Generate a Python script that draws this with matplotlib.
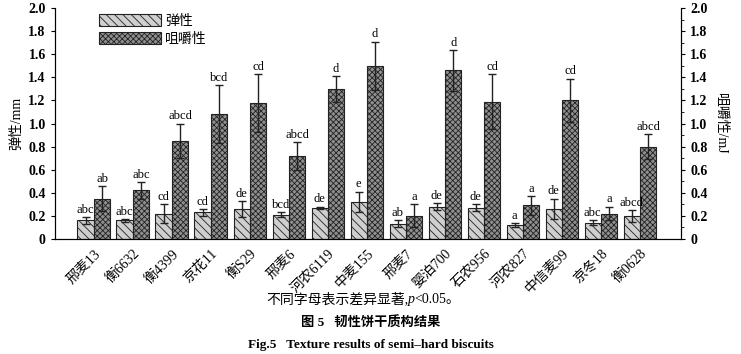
import matplotlib
matplotlib.use("Agg")
import matplotlib.pyplot as plt
import numpy as np

plt.rcParams['font.family'] = ['Liberation Serif', 'Noto Sans CJK SC', 'DejaVu Sans']
plt.rcParams['hatch.linewidth'] = 0.6

varieties = ["邢麦13", "衡6632", "衡4399", "京花11", "衡S29", "邢麦6", "河农6119", "中麦155",
             "邢麦7", "婴泊700", "石农956", "河农827", "中信麦99", "京冬18", "衡0628"]
spring = [0.16, 0.16, 0.22, 0.23, 0.26, 0.21, 0.27, 0.32, 0.13, 0.28, 0.27, 0.12, 0.26, 0.14, 0.20]
spring_err = [0.03, 0.01, 0.08, 0.03, 0.07, 0.02, 0.01, 0.09, 0.03, 0.03, 0.03, 0.02, 0.09, 0.02, 0.05]
spring_sig = ["abc", "abc", "cd", "cd", "de", "bcd", "de", "e", "ab", "de", "de", "a", "de", "abc", "abcd"]
chew = [0.35, 0.42, 0.85, 1.08, 1.18, 0.72, 1.30, 1.50, 0.20, 1.46, 1.19, 0.29, 1.20, 0.22, 0.80]
chew_err = [0.11, 0.07, 0.15, 0.25, 0.25, 0.12, 0.11, 0.21, 0.10, 0.18, 0.24, 0.08, 0.19, 0.06, 0.11]
chew_sig = ["ab", "abc", "abcd", "bcd", "cd", "abcd", "d", "d", "a", "d", "cd", "a", "cd", "a", "abcd"]

fig = plt.figure(figsize=(7.41, 3.54), dpi=100)
ax = fig.add_axes([0.074, 0.325, 0.845, 0.652])
x = np.arange(len(varieties))
w = 0.42

b1 = ax.bar(x - w / 2, spring, w, color='#cfcfcf', edgecolor='#222222', hatch='\\\\\\\\',
            linewidth=0.8, label='弹性')
b2 = ax.bar(x + w / 2, chew, w, color='#8f8f8f', edgecolor='#222222', hatch='xxxxxx',
            linewidth=0.8, label='咀嚼性')
ax.errorbar(x - w / 2, spring, yerr=spring_err, fmt='none', ecolor='#222222', elinewidth=1, capsize=3)
ax.errorbar(x + w / 2, chew, yerr=chew_err, fmt='none', ecolor='#222222', elinewidth=1, capsize=3)

for i in range(len(x)):
    ax.text(x[i] - w / 2, spring[i] + spring_err[i] + 0.01, spring_sig[i], ha='center', va='bottom', fontsize=9)
    ax.text(x[i] + w / 2, chew[i] + chew_err[i] + 0.01, chew_sig[i], ha='center', va='bottom', fontsize=9)

ax.set_xlim(-1.0, 15.05)
ax.set_ylim(0, 2.0)
ax.set_yticks(np.arange(0, 2.01, 0.2))
ax.set_yticklabels(["0"] + ["%.1f" % v for v in np.arange(0.2, 2.01, 0.2)], fontweight='bold', fontsize=10)
ax.set_xticks(x)
ax.set_xticklabels(varieties, rotation=45, ha='right', rotation_mode='anchor', fontsize=10)
ax.tick_params(axis='x', length=0, pad=6)
ax.tick_params(axis='y', direction='out', length=3)
ax.set_ylabel("弹性/mm", fontsize=10)
ax.spines['top'].set_visible(False)

ax2 = ax.twinx()
ax2.set_ylim(0, 2.0)
ax2.set_yticks(np.arange(0, 2.01, 0.2))
ax2.set_yticklabels(["0"] + ["%.1f" % v for v in np.arange(0.2, 2.01, 0.2)], fontweight='bold', fontsize=10)
ax2.set_yticks(np.arange(0, 2.01, 0.1), minor=True)
ax2.tick_params(axis='y', which='major', direction='out', length=3)
ax2.tick_params(axis='y', which='minor', direction='out', length=2)
ax2.set_ylabel("咀嚼性/mJ", rotation=270, labelpad=14, fontsize=10)
ax2.spines['top'].set_visible(False)

leg = ax.legend(loc='upper left', bbox_to_anchor=(0.05, 1.03), frameon=False, fontsize=10,
                handlelength=4.5, handleheight=1.0, labelspacing=0.3, handletextpad=0.3)

# caption: plain text piece + italic p + rest
fig.text(0.551, 0.155, "不同字母表示差异显著,", ha='right', va='center', fontsize=10)
fig.text(0.551, 0.155, "p", ha='left', va='center', fontsize=10, fontstyle='italic')
fig.text(0.5595, 0.155, "<0.05。", ha='left', va='center', fontsize=10)
fig.text(0.5, 0.088, "图 5   韧性饼干质构结果", ha='center', va='center', fontsize=9.5, fontweight='bold')
fig.text(0.5, 0.025, "Fig.5   Texture results of semi–hard biscuits", ha='center', va='center',
         fontsize=9.5, fontweight='bold')

fig.savefig("out.png", dpi=100)
